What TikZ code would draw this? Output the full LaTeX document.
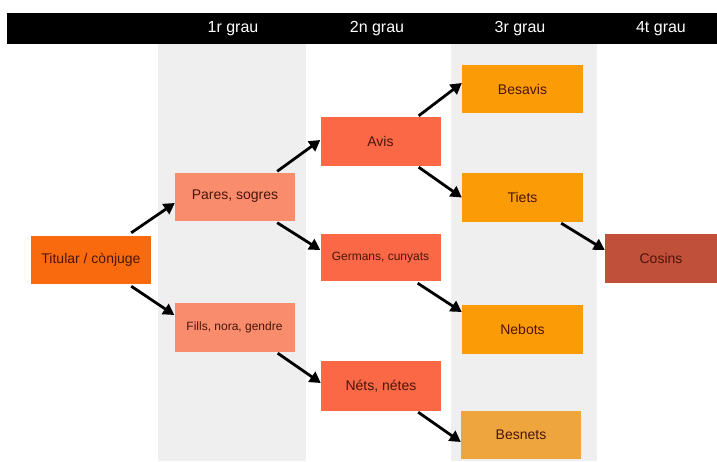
\documentclass[tikz,border=0pt]{standalone}
\usepackage{fontspec}
\setmainfont{Liberation Sans}
\usetikzlibrary{calc,arrows.meta}
\definecolor{cTit}{HTML}{F96A0F}
\definecolor{cOne}{HTML}{F98C6C}
\definecolor{cTwo}{HTML}{FA6846}
\definecolor{cThr}{HTML}{FB9B05}
\definecolor{cBsn}{HTML}{EFA53E}
\definecolor{cCos}{HTML}{C1503A}
\definecolor{band}{HTML}{EFEFEF}
\definecolor{txt}{HTML}{4A150A}
\tikzset{
  box/.style={rectangle, minimum width=120pt, minimum height=48pt, inner sep=0pt,
    text=txt, font=\fontsize{14}{16}\selectfont},
  smallbox/.style={box, font=\fontsize{12}{14}\selectfont},
  hdr/.style={text=white, font=\fontsize{16}{18}\selectfont, inner sep=0pt},
  arr/.style={line width=2.8pt, -{Triangle[length=11pt,width=12pt]}, black}
}
\begin{document}
\begin{tikzpicture}[x=1pt,y=-1pt]
\useasboundingbox (0,0) rectangle (717,461);
\fill[white] (0,0) rectangle (717,461);
% bands
\fill[band] (158,44) rectangle (306,461);
\fill[band] (451,44) rectangle (597,461);
% header bar
\fill[black] (7,13) rectangle (717,44);
\node[hdr] (h1) at (233,29) {1r grau};
\node[hdr] (h2) at (377,29) {2n grau};
\node[hdr] (h3) at (520,29) {3r grau};
\node[hdr] (h4) at (661,29) {4t grau};
% nodes
\node[box, fill=cTit] (tit) at (91,260) {Titular / cònjuge};
\node[box, fill=cOne] (par) at (235,196.5) {Pares, sogres};
\node[smallbox, fill=cOne, minimum height=49pt] (fil) at (234.5,327.5) {Fills, nora, gendre};
\node[box, fill=cTwo, minimum height=49pt] (avi) at (380.5,141.5) {Avis};
\node[smallbox, fill=cTwo, minimum height=47pt] (ger) at (380.5,257.5) {Germans, cunyats};
\node[box, fill=cTwo, minimum height=50pt] (net) at (381,386) {Néts, nétes};
\node[box, fill=cThr, minimum width=121pt] (bsv) at (522.5,89) {Besavis};
\node[box, fill=cThr, minimum width=121pt, minimum height=49pt] (tie) at (522.5,197.5) {Tiets};
\node[box, fill=cThr, minimum width=121pt, minimum height=49pt] (neb) at (522.5,329.5) {Nebots};
\node[box, fill=cBsn] (bsn) at (521,435) {Besnets};
\node[box, fill=cCos, minimum width=112pt, minimum height=49pt] (cos) at (661,258.5) {Cosins};
% arrows
\draw[arr] ($(tit.north east)+(-20,-3)$) -- ($(par.west)+(0,6.5)$);
\draw[arr] ($(tit.south east)+(-20,2)$) -- ($(fil.west)+(0,-12.5)$);
\draw[arr] ($(par.north east)+(-18,-1)$) -- ($(avi.west)+(0,-1.5)$);
\draw[arr] ($(par.south east)+(-18,2)$) -- ($(ger.west)+(0,-7.5)$);
\draw[arr] ($(fil.south east)+(-17,1)$) -- ($(net.west)+(0,-3)$);
\draw[arr] ($(avi.north east)+(-22,-1)$) -- ($(bsv.west)+(0,-6)$);
\draw[arr] ($(avi.south east)+(-22,1)$) -- ($(tie.west)+(0,0)$);
\draw[arr] ($(ger.south east)+(-23,2)$) -- ($(neb.west)+(0,-17.5)$);
\draw[arr] ($(net.south east)+(-23,1)$) -- ($(bsn.west)+(0,7)$);
\draw[arr] ($(tie.south east)+(-22,1)$) -- ($(cos.west)+(0,-8.5)$);
\end{tikzpicture}
\end{document}
